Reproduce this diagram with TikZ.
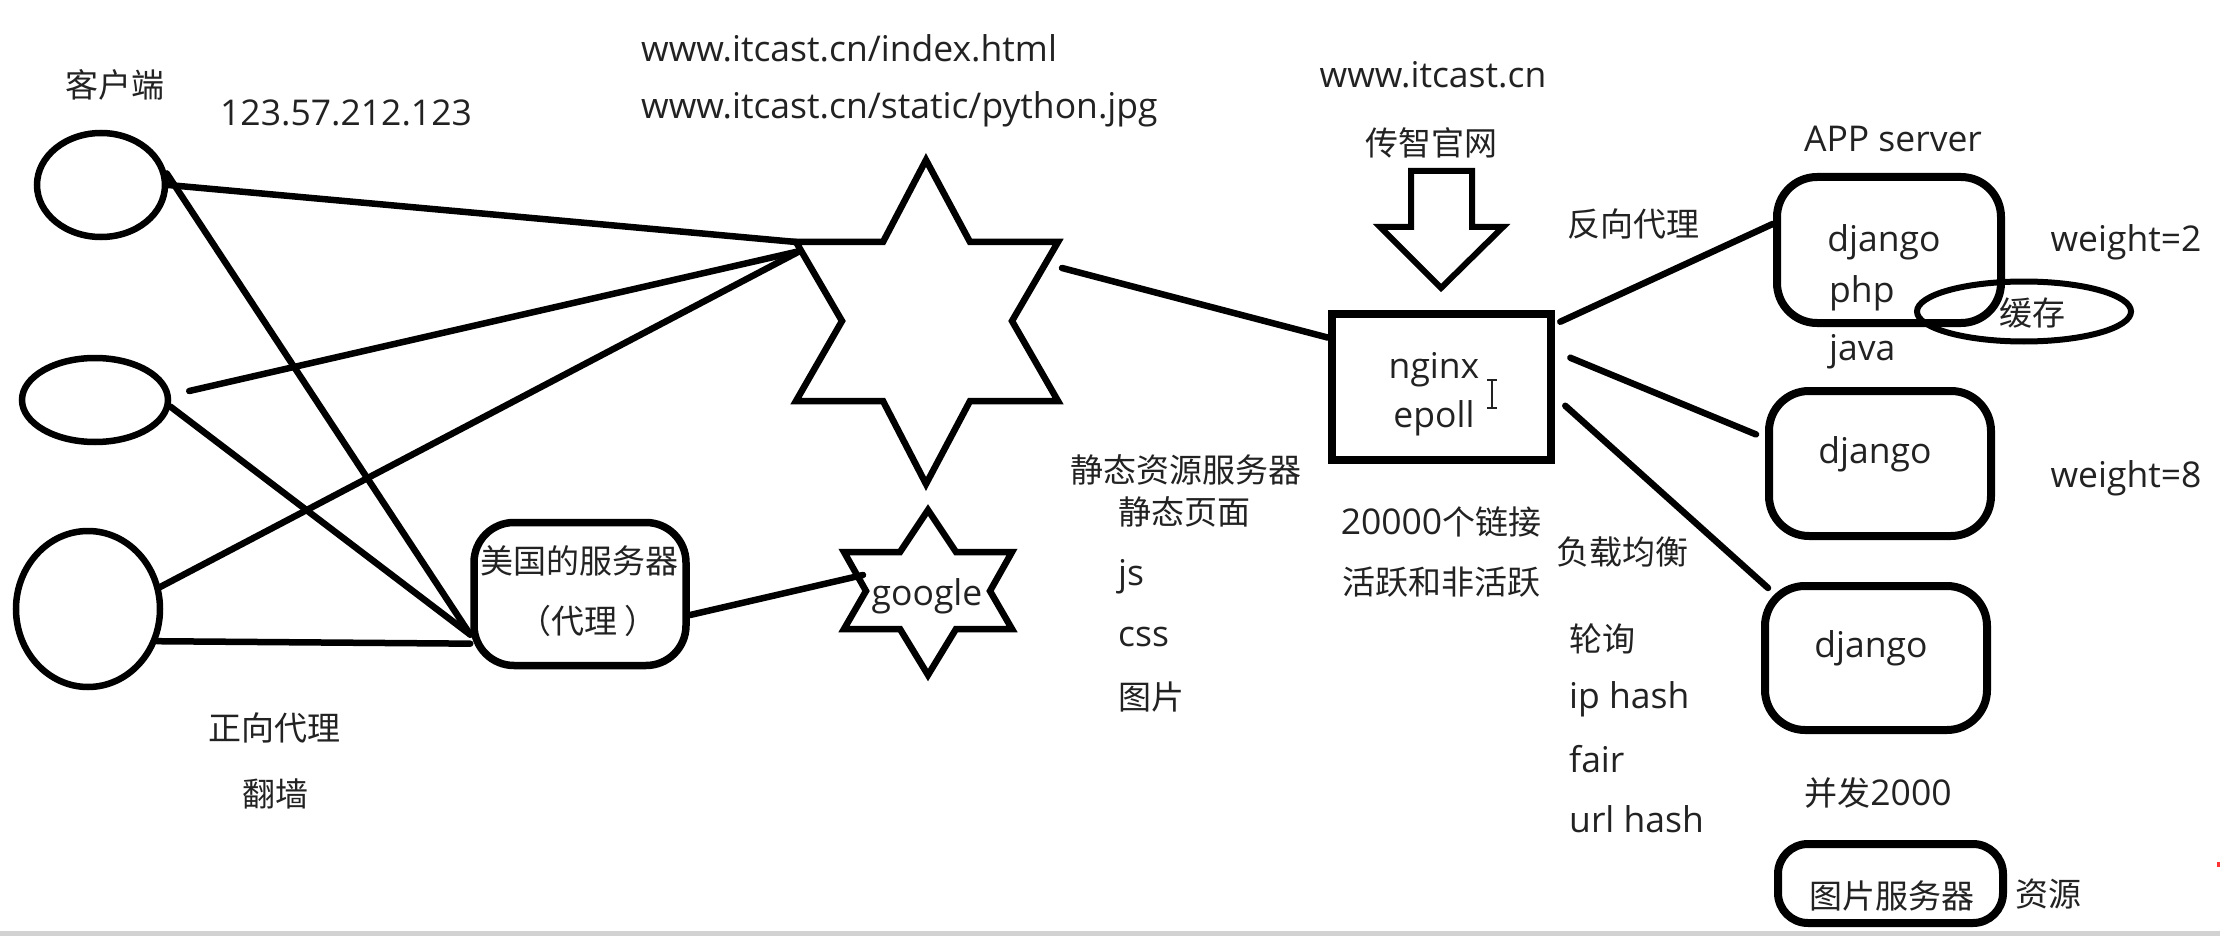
\documentclass[tikz,border=0pt]{standalone}
\usepackage{fontspec}
\setmainfont{Open Sans}
\newfontfamily\cjk{Noto Sans CJK SC}
\usetikzlibrary{shapes.geometric,calc}
\definecolor{txt}{HTML}{222222}
\begin{document}
\begin{tikzpicture}[x=1pt,y=-1pt,
  line/.style={line width=6.5pt, line cap=round},
  lat/.style={font=\fontsize{35.5}{40}\selectfont, text=txt, inner sep=0pt},
  zh/.style={font=\cjk\fontsize{33}{38}\selectfont, text=txt, inner sep=0pt},
  oval/.style={ellipse, draw, line width=6.5pt, inner sep=0pt},
  rbox/.style={draw, line width=7.5pt, rounded corners=40pt, inner sep=0pt},
  sbox/.style={draw, line width=8.5pt, inner sep=0pt},
]
\useasboundingbox (0,0) rectangle (2220,936);
\fill[white] (0,0) rectangle (2220,936);
\fill[gray!35] (0,931) rectangle (2220,936);
\fill[red!80] (2217,862) rectangle (2220,867);

% ---- clients
\node[oval, minimum width=128pt, minimum height=104pt] (c1) at (101,185) {};
\node[oval, minimum width=146pt, minimum height=84pt] (e2) at (95,400) {};
\node[oval, minimum width=144pt, minimum height=156pt] (e3) at (88,609) {};

% ---- US proxy box
\node[rbox, minimum width=212pt, minimum height=143pt] (us) at (580,594) {};
\node[zh] (ust) at (579,561) {美国的服务器};
\node[zh] (usp) at (588,621) {（代理 ）};

% ---- big star
\coordinate (sT) at (926,160);
\coordinate (sLT) at (796,242);
\draw[line, line join=miter] (sT) -- (970,242) -- (1058,242) -- (1012,321) -- (1058,401) -- (970,401) -- (926,484) -- (883,401) -- (796,401) -- (842,321) -- (sLT) -- (883,242) -- cycle;
\coordinate (sLm) at (800,251);
\coordinate (sR) at (1062,268);

% ---- google star
\draw[line, line join=miter] (928,510) -- (956,552) -- (1012,552) -- (990,591) -- (1012,629) -- (956,629) -- (928,675) -- (900,629) -- (844,629) -- (866,591) -- (844,552) -- (900,552) -- cycle;
\coordinate (gL) at (863,575);
\node[lat] (goo) at (927,596) {google};

% ---- nginx
\node[sbox, minimum width=219pt, minimum height=146pt] (ng) at (1441.5,387) {};
\node[lat] (ngt) at (1434,370) {nginx};
\node[lat] (ept) at (1434,418) {epoll};
\draw[txt, line width=1.6pt] (1487,380) -- (1497,380) (1492,380) -- (1492,408) (1487,408) -- (1497,408);

% ---- block arrow
\draw[line width=6pt, line join=miter] (1411,171) -- (1472,171) -- (1472,227) -- (1503,227) -- (1441,288) -- (1380,227) -- (1411,227) -- cycle;

% ---- django boxes
\node[rbox, line width=8pt, minimum width=224pt, minimum height=146pt] (dj1) at (1889,250) {};
\node[rbox, line width=8pt, minimum width=222pt, minimum height=145pt] (dj2) at (1880,463.5) {};
\node[rbox, line width=8pt, minimum width=222pt, minimum height=144pt] (dj3) at (1876,658) {};
\node[rbox, line width=8pt, rounded corners=30pt, minimum width=225pt, minimum height=79pt] (pic) at (1890.5,883.5) {};
\node[lat] (d1t) at (1884,242) {django};
\node[lat, anchor=west] (php) at (1829,293) {php};
\node[lat, anchor=west] (java) at (1829,352) {java};
\node[lat] (d2t) at (1875,454) {django};
\node[lat] (d3t) at (1871,648) {django};
\node[zh] (pict) at (1892,896) {图片服务器};
\node[zh] (zy) at (2048,894) {资源};

% ---- cache
\node[zh] (hc) at (2032,313) {缓存};
\node[oval, line width=6pt, minimum width=214pt, minimum height=60pt] (cache) at (2024,311.5) {};

% ---- connectors
\coordinate (usA) at ($(us.south west)!0.23!(us.north west)$);
\coordinate (usB) at ($(us.south west)!0.17!(us.north west)$);
\draw[line] (c1.east) -- (sLT);
\draw[line] (c1.10) -- (usA);
\draw[line] ($(e2.east)+(18,-9)$) -- (sLm);
\draw[line] (e2.-5) -- (usA);
\draw[line] (e3.17) -- (sLm);
\draw[line] (e3.-25) -- (usB);
\draw[line] ($(us.north east)!0.64!(us.south east)$) -- (gL);
\draw[line] (sR) -- ($(ng.north west)!0.18!(ng.south west)$);
\draw[line] ($(ng.north east)+(5,12)$) -- ($(dj1.north west)!0.33!(dj1.south west)$);
\draw[line] ($(ng.north east)+(15,48)$) -- ($(dj2.north west)!0.31!(dj2.south west)+(-9,0)$);
\draw[line] ($(ng.north east)+(10,96)$) -- ($(dj3.north west)+(7,6)$);

% ---- labels
\node[zh] (kh) at (115,85) {客户端};
\node[lat] (ip) at (346,113) {123.57.212.123};
\node[lat, anchor=west] (u1) at (641,48) {www.itcast.cn/index.html};
\node[lat, anchor=west] (u2) at (641,109) {www.itcast.cn/static/python.jpg};
\node[lat] (u3) at (1433,75) {www.itcast.cn};
\node[zh] (czgw) at (1431,143) {传智官网};
\node[zh] (fxdl) at (1633,224) {反向代理};
\node[lat] (app) at (1893,139) {APP server};
\node[lat] (w2) at (2126,242) {weight=2};
\node[lat] (w8) at (2126,478) {weight=8};
\node[zh] (jt) at (1186,470) {静态资源服务器};
\node[zh, anchor=west] (jtym) at (1118,512) {静态页面};
\node[lat, anchor=west] (js) at (1118,577) {js};
\node[lat, anchor=west] (css) at (1118,637) {css};
\node[zh, anchor=west] (tp) at (1118,697) {图片};
\node[lat] (lj) at (1441,522) {20000{\cjk\fontsize{33}{38}\selectfont 个链接}};
\node[zh] (hy) at (1441,582) {活跃和非活跃};
\node[zh] (fzjh) at (1622,552) {负载均衡};
\node[zh, anchor=west] (lx) at (1569,639) {轮询};
\node[lat, anchor=west] (iph) at (1569,699) {ip hash};
\node[lat, anchor=west] (fair) at (1569,759) {fair};
\node[lat, anchor=west] (urlh) at (1569,819) {url hash};
\node[lat] (bf) at (1878,793) {{\cjk\fontsize{33}{38}\selectfont 并发}2000};
\node[zh] (zxdl) at (274,728) {正向代理};
\node[zh] (fq) at (275,794) {翻墙};
\end{tikzpicture}
\end{document}
